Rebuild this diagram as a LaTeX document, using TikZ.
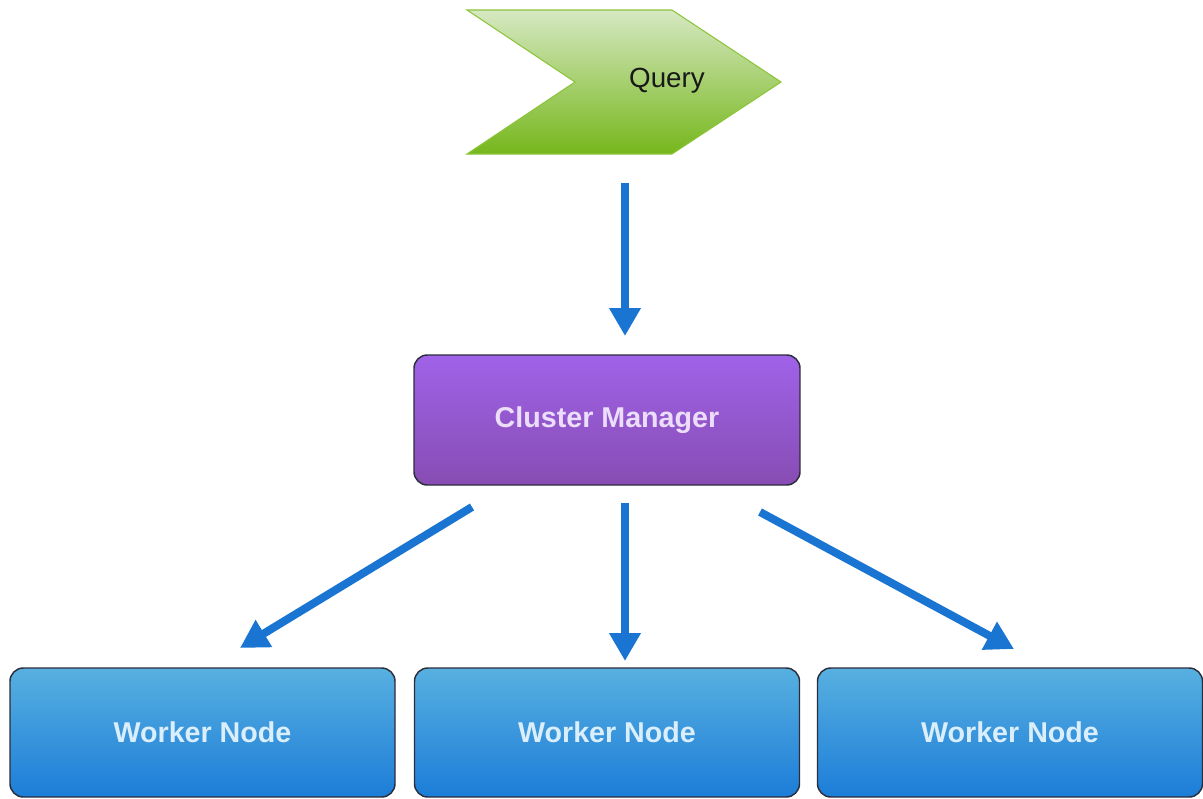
\documentclass[tikz,border=0pt]{standalone}
\usepackage{fontspec}
\setmainfont{Liberation Sans}
\usetikzlibrary{arrows.meta}
\definecolor{arrowblue}{HTML}{1A75D2}
\definecolor{qtop}{HTML}{D6E8C2}
\definecolor{qbot}{HTML}{76B71C}
\definecolor{qedge}{HTML}{8CC43A}
\definecolor{cmtop}{HTML}{A062E8}
\definecolor{cmbot}{HTML}{874DB3}
\definecolor{cmtext}{HTML}{ECDDFB}
\definecolor{wtop}{HTML}{58B0E0}
\definecolor{wbot}{HTML}{1C7DD8}
\definecolor{wtext}{HTML}{DAEEFC}
\definecolor{boxedge}{HTML}{2B2D3A}
\tikzset{
  box/.style={draw=boxedge, line width=1.1pt, rounded corners=10pt, inner sep=0pt,
    font=\fontsize{21.5}{25}\selectfont\bfseries},
  cmbox/.style={box, top color=cmtop, bottom color=cmbot, text=cmtext,
    minimum width=386*0.75pt, minimum height=130*0.75pt},
  wbox/.style={box, top color=wtop, bottom color=wbot, text=wtext,
    minimum width=385*0.75pt, minimum height=129*0.75pt},
  flow/.style={draw=arrowblue, line width=8*0.75pt,
    -{Triangle[length=28*0.75pt, width=30*0.75pt]}},
}
\begin{document}
\begin{tikzpicture}[x=0.75pt, y=-0.75pt]
\useasboundingbox (0,0) rectangle (1203,799);
% Query chevron
\shade[top color=qtop, bottom color=qbot, draw=qedge, line width=0.8pt]
  (467,10) -- (672,10) -- (781,82) -- (672,154) -- (467,154) -- (575,82) -- cycle;
\node[font=\fontsize{20.8}{24}\selectfont, text=black!90, inner sep=0pt] (query) at (667,81) {Query};
% boxes
\node[cmbox] (cm) at (607,420) {Cluster Manager};
\node[wbox] (w1) at (202.5,732.5) {Worker Node};
\node[wbox] (w2) at (607,732.5) {Worker Node};
\node[wbox] (w3) at (1010,732.5) {Worker Node};
% connector ends
\coordinate (qs) at (625,183);
\coordinate (qe) at (625,336);
\coordinate (l1s) at (472,507);
\coordinate (l1e) at (240,648);
\coordinate (l2s) at (625,503);
\coordinate (l2e) at (625,661);
\coordinate (l3s) at (760,512);
\coordinate (l3e) at (1014,649);
\draw[flow] (qs) -- (qe);
\draw[flow] (l1s) -- (l1e);
\draw[flow] (l2s) -- (l2e);
\draw[flow] (l3s) -- (l3e);
\end{tikzpicture}
\end{document}
